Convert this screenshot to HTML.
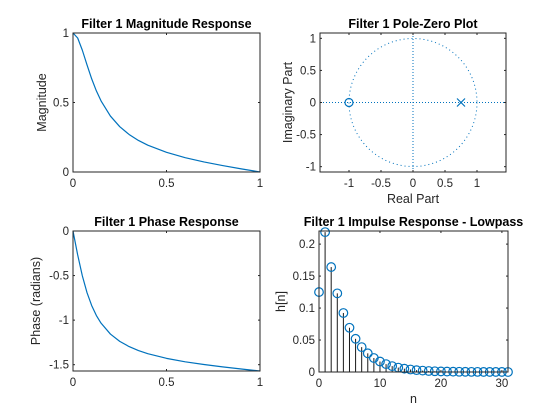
<!DOCTYPE html>
<html><head><meta charset="utf-8"><style>
body{margin:0;background:#fff}
svg{display:block;font-family:"Liberation Sans",sans-serif}
</style></head><body>
<svg id="fig" width="560" height="420" viewBox="0 0 560 420" xmlns="http://www.w3.org/2000/svg">
<rect width="560" height="420" fill="#fff"/>
</svg>
<script>
// ---- data ----
const freqX = [0,0.025,0.05,0.075,0.1,0.125,0.15,0.2,0.25,0.3,0.35,0.4,0.5,0.6,0.7,0.8,0.9,1];
const magValues = [1,0.9642,0.8759,0.7701,0.6698,0.5833,0.5114,0.4025,0.3260,0.2700,0.2270,0.1929,0.1414,0.1032,0.0726,0.0464,0.0226,0];
const phaseValues = [0,-0.2684,-0.5036,-0.6919,-0.8370,-0.9481,-1.0340,-1.1564,-1.2384,-1.2970,-1.3418,-1.3768,-1.4289,-1.4677,-1.4979,-1.5244,-1.5482,-1.5708];
const zerosRe = [-1];
const zerosIm = [0];
const polesRe = [0.75];
const polesIm = [0];
const impulseN = [0,1,2,3,4,5,6,7,8,9,10,11,12,13,14,15,16,17,18,19,20,21,22,23,24,25,26,27,28,29,30,31];
const impulseH = [0.125,0.21875,0.1641,0.1230,0.0923,0.0692,0.0519,0.0389,0.0292,0.0219,0.0164,0.0123,0.0092,0.0069,0.0052,0.0039,0.0029,0.0022,0.0016,0.0012,0.0009,0.0007,0.0005,0.0004,0.0003,0.0002,0.0002,0.0001,0.0001,0.0001,0.0001,0.0000];
const magXTicks = [0,0.5,1];
const magYTicks = [0,0.5,1];
const phaseYTicks = [-1.5,-1,-0.5,0];
const pzTicks = [-1,-0.5,0,0.5,1];
const impXTicks = [0,10,20,30];
const impYTicks = [0,0.05,0.1,0.15,0.2];

const NS='http://www.w3.org/2000/svg';
const fig=document.getElementById('fig');
const C='#0072BD';
function mk(tag,attrs,parent){const e=document.createElementNS(NS,tag);for(const k in attrs)e.setAttribute(k,attrs[k]);(parent||fig).appendChild(e);return e;}
function txt(s,x,y,attrs,parent){const t=mk('text',Object.assign({x:x,y:y,'font-size':11.5,fill:'#262626'},attrs),parent);t.textContent=s;return t;}
function lbl(v){return String(v);}

function axes(name,box,xlim,ylim,xt,yt,title,xlabel,ylabel){
  const g=mk('g',{});
  
  
  const sx=v=>box.x0+(v-xlim[0])/(xlim[1]-xlim[0])*(box.x1-box.x0);
  const sy=v=>box.y1-(v-ylim[0])/(ylim[1]-ylim[0])*(box.y1-box.y0);
  const plot=mk('g',{},g);
  
  
  const frame=mk('rect',{x:box.x0,y:box.y0,width:box.x1-box.x0,height:box.y1-box.y0,fill:'none',stroke:'#262626','stroke-width':1},g);
  
  
  xt.forEach(v=>{const x=sx(v);
    mk('line',{x1:x,x2:x,y1:box.y1,y2:box.y1-2,stroke:'#262626'},g);
    mk('line',{x1:x,x2:x,y1:box.y0,y2:box.y0+2,stroke:'#262626'},g);
    const t=txt(lbl(v),x,box.y1+15,{'text-anchor':'middle'},g);
    
    });
  yt.forEach(v=>{const y=sy(v);
    mk('line',{x1:box.x0,x2:box.x0+2,y1:y,y2:y,stroke:'#262626'},g);
    mk('line',{x1:box.x1,x2:box.x1-2,y1:y,y2:y,stroke:'#262626'},g);
    const t=txt(lbl(v),box.x0-4,y+4,{'text-anchor':'end'},g);
    
    });
  const tt=txt(title,(box.x0+box.x1)/2,box.y0-5,{'text-anchor':'middle','font-weight':'bold','font-size':12.5,fill:'#000'},g);
  
  
  if(xlabel){const t=txt(xlabel,(box.x0+box.x1)/2,box.y1+31,{'text-anchor':'middle','font-size':12.5},g);
    
    }
  if(ylabel){const cx=box.x0-(ylabel.len||30), cy=(box.y0+box.y1)/2;
    const t=txt(ylabel.s,cx,cy,{'text-anchor':'middle','font-size':12.5,transform:`rotate(-90 ${cx} ${cy})`},g);
    
    }
  return {g:plot,sx,sy};
}

// Magnitude
let a=axes('magnitude-axes',{x0:73,x1:260,y0:33,y1:172},[0,1],[0,1],magXTicks,magYTicks,'Filter 1 Magnitude Response',null,{s:'Magnitude',len:27});
let p=mk('polyline',{points:freqX.map((x,i)=>a.sx(x)+','+a.sy(magValues[i])).join(' '),fill:'none',stroke:C,'stroke-width':1.2,'stroke-linejoin':'round'},a.g);



// Phase
a=axes('phase-axes',{x0:73,x1:260,y0:231,y1:371},[0,1],[-1.5708,0],magXTicks,phaseYTicks,'Filter 1 Phase Response',null,{s:'Phase (radians)',len:33});
p=mk('polyline',{points:freqX.map((x,i)=>a.sx(x)+','+a.sy(phaseValues[i])).join(' '),fill:'none',stroke:C,'stroke-width':1.2,'stroke-linejoin':'round'},a.g);



// Pole-zero
a=axes('pole-zero-axes',{x0:320,x1:506,y0:33,y1:172},[-1.453,1.453],[-1.083,1.083],pzTicks,pzTicks,'Filter 1 Pole-Zero Plot','Real Part',{s:'Imaginary Part',len:28});
const uc=mk('circle',{cx:a.sx(0),cy:a.sy(0),r:a.sx(1)-a.sx(0),fill:'none',stroke:C,'stroke-dasharray':'1 3','stroke-width':1},a.g);


mk('line',{x1:320,x2:506,y1:a.sy(0),y2:a.sy(0),stroke:C,'stroke-dasharray':'1 2'},a.g);
mk('line',{x1:a.sx(0),x2:a.sx(0),y1:33,y2:172,stroke:C,'stroke-dasharray':'1 2'},a.g);
zerosRe.forEach((r,i)=>{const z=mk('circle',{cx:a.sx(r),cy:a.sy(zerosIm[i]),r:4,fill:'none',stroke:C,'stroke-width':1.2},a.g);
  
  });
polesRe.forEach((r,i)=>{const x=a.sx(r),y=a.sy(polesIm[i]);
  const pp=mk('path',{d:`M${x-4},${y-4}L${x+4},${y+4}M${x-4},${y+4}L${x+4},${y-4}`,stroke:C,'stroke-width':1.2},a.g);
  
  });

// Impulse
a=axes('impulse-axes',{x0:319,x1:508,y0:231,y1:372},[0,31],[0,0.2205],impXTicks,impYTicks,'Filter 1 Impulse Response - Lowpass','n',{s:'h[n]',len:34});
impulseN.forEach((n,i)=>{const x=a.sx(n),y=a.sy(impulseH[i]);
  const s=mk('line',{x1:x,x2:x,y1:a.sy(0),y2:y,stroke:'#1a1a1a','stroke-width':1},a.g);
  
  
  const m=mk('circle',{cx:x,cy:y,r:4.3,fill:'none',stroke:C,'stroke-width':1.2},a.g);
  
  });
</script>
</body></html>
